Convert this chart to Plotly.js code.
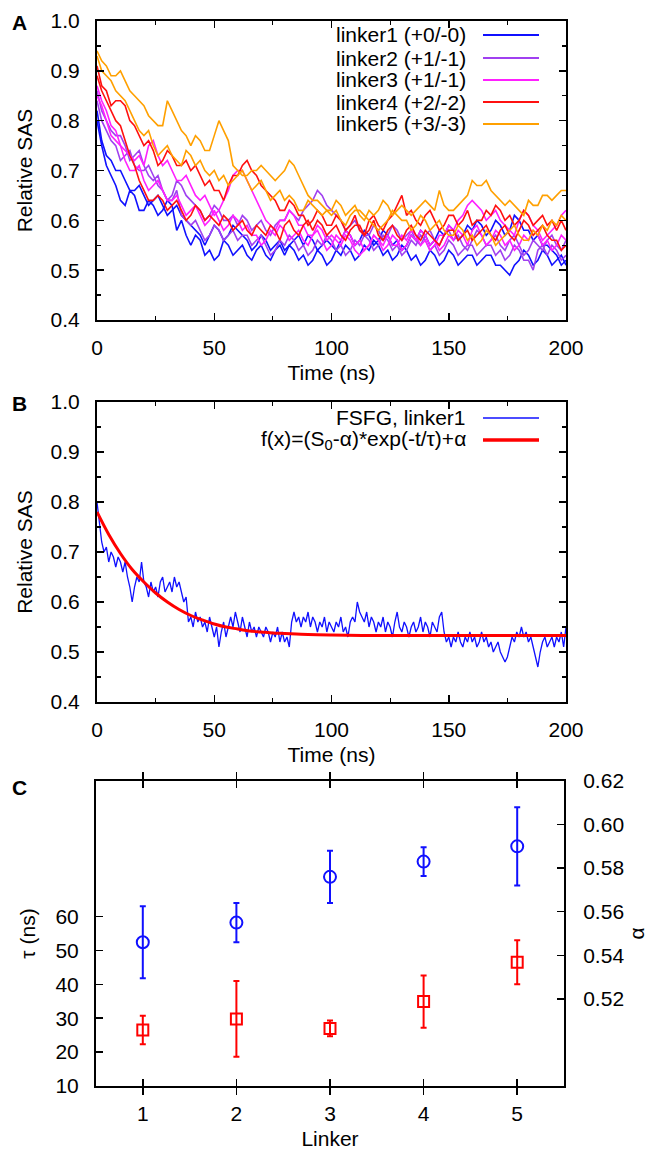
<!DOCTYPE html>
<html>
<head>
<meta charset="utf-8">
<script src="https://cdn.plot.ly/plotly-3.0.1.min.js"></script>
<style>html,body{margin:0;padding:0;background:#fff;}#chart{width:648px;height:1153px;}</style>
</head>
<body>
<div id="chart"></div>
<script>
// ---------- Panel A data (Relative SAS vs time, sampled every 2 ns, t = 0..200) ----------
const tStartA = 0, tStepA = 2;
const linker1a = [
0.80,0.75,0.71,0.69,0.67,0.64,0.63,0.66,0.65,0.62,
0.62,0.64,0.63,0.61,0.62,0.64,0.63,0.58,0.60,0.57,
0.55,0.57,0.56,0.53,0.54,0.52,0.53,0.56,0.55,0.53,
0.54,0.55,0.53,0.52,0.54,0.55,0.53,0.52,0.54,0.55,
0.53,0.55,0.54,0.52,0.53,0.51,0.52,0.54,0.53,0.51,
0.52,0.54,0.53,0.55,0.54,0.52,0.53,0.55,0.54,0.56,
0.55,0.53,0.54,0.52,0.53,0.55,0.54,0.52,0.53,0.51,
0.52,0.54,0.53,0.51,0.52,0.54,0.53,0.51,0.52,0.53,
0.53,0.51,0.52,0.53,0.53,0.51,0.51,0.50,0.49,0.51,
0.52,0.54,0.53,0.51,0.52,0.54,0.53,0.51,0.52,0.53,
0.51];
const linker1b = [
0.82,0.76,0.73,0.72,0.70,0.70,0.68,0.66,0.66,0.67,
0.65,0.63,0.64,0.65,0.63,0.61,0.62,0.63,0.61,0.60,
0.59,0.58,0.57,0.55,0.57,0.59,0.58,0.56,0.57,0.59,
0.58,0.57,0.56,0.54,0.55,0.57,0.56,0.54,0.55,0.56,
0.54,0.55,0.56,0.57,0.55,0.57,0.56,0.54,0.55,0.56,
0.55,0.54,0.56,0.58,0.57,0.55,0.56,0.58,0.57,0.55,
0.56,0.58,0.57,0.55,0.56,0.54,0.55,0.57,0.56,0.58,
0.57,0.55,0.56,0.58,0.57,0.59,0.58,0.56,0.57,0.59,
0.58,0.60,0.59,0.57,0.58,0.60,0.59,0.57,0.58,0.61,
0.60,0.58,0.58,0.56,0.57,0.55,0.55,0.54,0.53,0.51,
0.52];
const linker2a = [
0.86,0.82,0.80,0.78,0.77,0.77,0.75,0.72,0.73,0.74,
0.71,0.69,0.68,0.69,0.66,0.64,0.64,0.66,0.61,0.60,
0.59,0.60,0.58,0.56,0.57,0.59,0.58,0.56,0.57,0.58,
0.56,0.57,0.57,0.55,0.56,0.57,0.55,0.53,0.54,0.56,
0.55,0.57,0.56,0.54,0.55,0.53,0.54,0.56,0.55,0.57,
0.56,0.54,0.55,0.53,0.54,0.56,0.55,0.57,0.56,0.54,
0.55,0.57,0.56,0.54,0.55,0.53,0.54,0.56,0.55,0.57,
0.56,0.54,0.55,0.53,0.54,0.56,0.55,0.53,0.54,0.55,
0.55,0.53,0.54,0.55,0.55,0.53,0.54,0.52,0.53,0.55,
0.54,0.52,0.52,0.50,0.54,0.55,0.53,0.55,0.54,0.52,
0.53];
const linker2b = [
0.84,0.80,0.78,0.76,0.75,0.72,0.73,0.74,0.71,0.70,
0.70,0.71,0.69,0.67,0.66,0.64,0.65,0.68,0.67,0.65,
0.64,0.63,0.62,0.60,0.61,0.63,0.62,0.60,0.60,0.61,
0.59,0.61,0.60,0.58,0.59,0.60,0.58,0.57,0.59,0.60,
0.60,0.62,0.61,0.60,0.62,0.63,0.64,0.66,0.65,0.63,
0.62,0.61,0.60,0.58,0.59,0.60,0.58,0.57,0.57,0.59,
0.58,0.56,0.57,0.59,0.58,0.56,0.57,0.58,0.56,0.55,
0.57,0.58,0.56,0.55,0.57,0.58,0.56,0.57,0.55,0.54,
0.56,0.58,0.57,0.55,0.56,0.57,0.55,0.54,0.56,0.57,
0.55,0.53,0.54,0.56,0.55,0.54,0.56,0.57,0.55,0.54,
0.56];
const linker3a = [
0.87,0.84,0.82,0.79,0.78,0.75,0.74,0.73,0.72,0.73,
0.71,0.75,0.76,0.73,0.71,0.72,0.70,0.68,0.68,0.69,
0.67,0.65,0.64,0.65,0.63,0.61,0.62,0.64,0.66,0.69,
0.70,0.70,0.68,0.66,0.64,0.62,0.60,0.59,0.58,0.60,
0.60,0.62,0.61,0.59,0.59,0.57,0.57,0.59,0.58,0.56,
0.57,0.56,0.55,0.57,0.56,0.54,0.53,0.54,0.55,0.57,
0.56,0.55,0.57,0.55,0.55,0.57,0.56,0.58,0.57,0.55,
0.56,0.54,0.55,0.57,0.57,0.59,0.58,0.60,0.61,0.63,
0.64,0.63,0.62,0.60,0.61,0.62,0.60,0.59,0.58,0.57,
0.60,0.62,0.61,0.59,0.58,0.56,0.57,0.58,0.59,0.61,
0.62];
const linker3b = [
0.85,0.83,0.80,0.77,0.76,0.75,0.72,0.70,0.70,0.71,
0.68,0.66,0.67,0.68,0.66,0.64,0.64,0.65,0.63,0.61,
0.62,0.63,0.61,0.59,0.60,0.62,0.60,0.58,0.59,0.61,
0.60,0.58,0.59,0.57,0.57,0.55,0.56,0.58,0.57,0.59,
0.58,0.56,0.57,0.58,0.56,0.55,0.57,0.58,0.56,0.54,
0.55,0.57,0.56,0.58,0.57,0.55,0.56,0.54,0.55,0.57,
0.56,0.54,0.55,0.57,0.56,0.54,0.55,0.57,0.56,0.58,
0.57,0.55,0.56,0.54,0.55,0.57,0.56,0.58,0.57,0.55,
0.58,0.59,0.57,0.55,0.56,0.58,0.57,0.55,0.56,0.54,
0.55,0.57,0.56,0.58,0.57,0.55,0.56,0.54,0.55,0.57,
0.56];
const linker4a = [
0.91,0.87,0.86,0.83,0.84,0.84,0.83,0.80,0.79,0.77,
0.75,0.76,0.74,0.71,0.72,0.74,0.73,0.71,0.71,0.72,
0.70,0.71,0.69,0.67,0.68,0.66,0.66,0.64,0.67,0.69,
0.69,0.71,0.72,0.70,0.69,0.67,0.66,0.65,0.64,0.62,
0.62,0.64,0.63,0.61,0.61,0.59,0.60,0.62,0.61,0.59,
0.59,0.61,0.60,0.58,0.59,0.61,0.58,0.57,0.60,0.61,
0.59,0.58,0.60,0.61,0.63,0.65,0.61,0.62,0.60,0.59,
0.61,0.62,0.60,0.58,0.59,0.61,0.61,0.59,0.60,0.62,
0.59,0.60,0.60,0.62,0.61,0.63,0.62,0.60,0.61,0.59,
0.60,0.62,0.61,0.59,0.60,0.61,0.59,0.60,0.58,0.60,
0.58];
const linker4b = [
0.89,0.86,0.84,0.82,0.80,0.79,0.76,0.73,0.71,0.68,
0.66,0.64,0.64,0.65,0.64,0.62,0.63,0.64,0.62,0.60,
0.61,0.63,0.62,0.60,0.61,0.60,0.59,0.61,0.60,0.58,
0.59,0.60,0.58,0.57,0.59,0.58,0.57,0.59,0.58,0.56,
0.59,0.60,0.58,0.57,0.59,0.60,0.58,0.60,0.59,0.57,
0.58,0.59,0.57,0.56,0.58,0.59,0.59,0.57,0.58,0.60,
0.57,0.56,0.58,0.59,0.57,0.56,0.58,0.59,0.57,0.56,
0.58,0.57,0.56,0.55,0.57,0.58,0.58,0.56,0.57,0.58,
0.56,0.57,0.58,0.59,0.57,0.56,0.58,0.59,0.57,0.56,
0.58,0.60,0.59,0.57,0.58,0.59,0.57,0.56,0.56,0.54,
0.55];
const linker5a = [
0.94,0.92,0.91,0.89,0.89,0.90,0.88,0.86,0.85,0.84,
0.83,0.81,0.80,0.79,0.79,0.84,0.82,0.80,0.78,0.77,
0.75,0.77,0.76,0.74,0.74,0.77,0.80,0.78,0.76,0.71,
0.70,0.69,0.69,0.70,0.70,0.71,0.70,0.69,0.68,0.69,
0.70,0.72,0.71,0.69,0.67,0.65,0.64,0.64,0.63,0.62,
0.62,0.64,0.63,0.61,0.62,0.63,0.61,0.60,0.62,0.61,
0.62,0.64,0.63,0.61,0.62,0.63,0.62,0.61,0.62,0.63,
0.64,0.63,0.62,0.66,0.63,0.62,0.62,0.63,0.64,0.65,
0.68,0.67,0.67,0.68,0.66,0.65,0.64,0.63,0.64,0.63,
0.62,0.61,0.64,0.63,0.63,0.65,0.65,0.64,0.65,0.66,
0.66];
const linker5b = [
0.93,0.90,0.89,0.88,0.86,0.85,0.84,0.82,0.80,0.78,
0.77,0.78,0.75,0.73,0.74,0.75,0.73,0.72,0.71,0.74,
0.73,0.71,0.72,0.70,0.69,0.70,0.68,0.69,0.67,0.68,
0.69,0.70,0.68,0.66,0.67,0.68,0.66,0.64,0.65,0.66,
0.64,0.65,0.64,0.62,0.62,0.64,0.63,0.62,0.61,0.62,
0.61,0.62,0.60,0.59,0.61,0.62,0.62,0.61,0.60,0.59,
0.58,0.59,0.60,0.62,0.61,0.60,0.60,0.58,0.59,0.61,
0.60,0.58,0.59,0.60,0.58,0.57,0.57,0.59,0.58,0.56,
0.57,0.55,0.56,0.58,0.57,0.55,0.56,0.57,0.58,0.59,
0.57,0.56,0.56,0.58,0.57,0.59,0.58,0.60,0.59,0.61,
0.60];
const legendLabelsA = ['linker1 (+0/-0)','linker2 (+1/-1)','linker3 (+1/-1)','linker4 (+2/-2)','linker5 (+3/-3)'];
const linkerColors = ['#1010ff','#a040f0','#ff20ff','#ff1010','#ffa000'];

// ---------- Panel B data (FSFG, linker1, every 1 ns) ----------
const tStartB = 0, tStepB = 1;
const fsfgLinker1 = [
0.80,0.76,0.72,0.70,0.71,0.68,0.70,0.69,0.67,0.69,0.68,
0.66,0.68,0.65,0.63,0.60,0.63,0.65,0.64,0.68,0.64,
0.63,0.61,0.64,0.62,0.63,0.61,0.64,0.65,0.62,0.63,
0.64,0.62,0.65,0.63,0.64,0.62,0.60,0.61,0.56,0.57,
0.55,0.58,0.56,0.57,0.55,0.56,0.54,0.57,0.55,0.53,
0.55,0.51,0.54,0.56,0.53,0.55,0.57,0.55,0.58,0.56,
0.54,0.57,0.55,0.53,0.56,0.54,0.55,0.53,0.55,0.54,
0.53,0.55,0.54,0.52,0.54,0.53,0.55,0.52,0.54,0.52,
0.53,0.51,0.56,0.58,0.56,0.57,0.55,0.57,0.56,0.58,
0.55,0.57,0.56,0.54,0.56,0.55,0.57,0.54,0.56,0.55,
0.54,0.56,0.55,0.57,0.54,0.55,0.53,0.56,0.57,0.56,
0.60,0.58,0.57,0.56,0.58,0.55,0.57,0.56,0.54,0.56,
0.55,0.57,0.54,0.56,0.55,0.53,0.56,0.58,0.55,0.54,
0.56,0.55,0.53,0.55,0.56,0.54,0.55,0.57,0.54,0.56,
0.55,0.53,0.56,0.55,0.54,0.57,0.58,0.54,0.52,0.53,
0.51,0.53,0.52,0.54,0.52,0.51,0.53,0.52,0.54,0.52,
0.53,0.51,0.52,0.54,0.52,0.53,0.51,0.52,0.50,0.51,
0.52,0.50,0.49,0.48,0.49,0.51,0.53,0.52,0.54,0.53,
0.55,0.53,0.54,0.52,0.53,0.51,0.49,0.47,0.50,0.52,
0.53,0.51,0.52,0.53,0.51,0.53,0.52,0.54,0.51,0.55];
const fitTimes = [0,5,10,15,20,25,30,35,40,45,50,55,60,65,70,75,80,90,100,120,140,160,180,200];
const fitValues = [0.780,0.735,0.697,0.665,0.640,0.618,0.600,0.585,0.573,0.564,0.556,0.550,0.546,0.542,0.540,0.538,0.537,0.535,0.534,0.533,0.533,0.533,0.533,0.533];
const legendLabelsB = ['FSFG, linker1','f(x)=(S<sub>0</sub>-α)*exp(-t/τ)+α'];

// ---------- Panel C data ----------
const linkers = [1,2,3,4,5];
const tau = [26.5,29.8,27.0,34.9,46.5];
const tauErr = [4.2,11.2,2.3,7.7,6.5];
const alpha = [0.546,0.555,0.576,0.583,0.590];
const alphaErr = [0.0165,0.009,0.012,0.0066,0.018];

// ---------- Traces ----------
const seriesA = [linker1a,linker1b,linker2a,linker2b,linker3a,linker3b,linker4a,linker4b,linker5a,linker5b];
const traces = [];
seriesA.forEach((ys,i)=>{
  traces.push({type:'scatter',mode:'lines',y:ys,x0:tStartA,dx:tStepA,xaxis:'x',yaxis:'y',
    line:{color:linkerColors[Math.floor(i/2)],width:1.6},showlegend:false,hoverinfo:'skip'});
});
traces.push({type:'scatter',mode:'lines',y:fsfgLinker1,x0:tStartB,dx:tStepB,xaxis:'x2',yaxis:'y2',
  line:{color:'#1010ff',width:1.3},showlegend:false});
traces.push({type:'scatter',mode:'lines',x:fitTimes,y:fitValues,xaxis:'x2',yaxis:'y2',
  line:{color:'#ff0000',width:3,shape:'spline'},showlegend:false});
traces.push({type:'scatter',mode:'markers',x:linkers,y:alpha,xaxis:'x3',yaxis:'y4',
  marker:{symbol:'circle-open',size:12,color:'#1010ff',line:{width:2,color:'#1010ff'}},
  error_y:{type:'data',array:alphaErr,visible:true,color:'#1010ff',thickness:2,width:3},showlegend:false});
traces.push({type:'scatter',mode:'markers',x:linkers,y:tau,xaxis:'x3',yaxis:'y3',
  marker:{symbol:'square-open',size:11,color:'#ff0000',line:{width:2,color:'#ff0000'}},
  error_y:{type:'data',array:tauErr,visible:true,color:'#ff0000',thickness:2,width:3},showlegend:false});

// ---------- Layout ----------
const FONT = 'Liberation Sans, Arial, sans-serif';
const FS = 21;
const W = 648, H = 1153;
const px = v => v/W, py = v => 1 - v/H;

function timeAxis(anchor){
  return {domain:[px(97),px(566)],anchor:anchor,range:[0,200],dtick:50,tick0:0,
    ticks:'inside',ticklen:7,tickwidth:1.5,tickcolor:'#000',
    minor:{dtick:25,ticks:'inside',ticklen:4,tickwidth:1.2,tickcolor:'#000',showgrid:false},
    showline:true,linewidth:2,linecolor:'#000',mirror:'allticks',showgrid:false,zeroline:false,
    tickfont:{family:FONT,size:FS,color:'#000'},ticklabelstandoff:8,
    title:{text:'Time (ns)',font:{family:FONT,size:FS,color:'#000'},standoff:7}};
}
function sasAxis(top,bottom,anchor){
  return {domain:[py(bottom),py(top)],anchor:anchor,range:[0.4,1.0],dtick:0.1,tick0:0.4,tickformat:'.1f',
    ticks:'inside',ticklen:7,tickwidth:1.5,tickcolor:'#000',
    minor:{dtick:0.05,ticks:'inside',ticklen:4,tickwidth:1.2,tickcolor:'#000',showgrid:false},
    showline:true,linewidth:2,linecolor:'#000',mirror:'allticks',showgrid:false,zeroline:false,
    tickfont:{family:FONT,size:FS,color:'#000'},ticklabelstandoff:11,
    title:{text:'Relative SAS',font:{family:FONT,size:FS,color:'#000'},standoff:12}};
}

const legendRowsA = [35,58,80,102,124];
const annotations = [];
const shapes = [];
legendLabelsA.forEach((lab,i)=>{
  annotations.push({xref:'paper',yref:'paper',x:px(468),y:py(legendRowsA[i]),xanchor:'right',yanchor:'middle',
    text:lab,showarrow:false,font:{family:FONT,size:FS,color:'#000'}});
  shapes.push({type:'line',xref:'paper',yref:'paper',x0:px(483),x1:px(539),y0:py(legendRowsA[i]),y1:py(legendRowsA[i]),
    line:{color:linkerColors[i],width:1.8}});
});
const legendRowsB = [418,440];
const legendColorsB = ['#1010ff','#ff0000'];
const legendWidthsB = [1.5,3.5];
legendLabelsB.forEach((lab,i)=>{
  annotations.push({xref:'paper',yref:'paper',x:px(468),y:py(legendRowsB[i]),xanchor:'right',yanchor:'middle',
    text:lab,showarrow:false,font:{family:FONT,size:FS,color:'#000'}});
  shapes.push({type:'line',xref:'paper',yref:'paper',x0:px(483),x1:px(539),y0:py(legendRowsB[i]),y1:py(legendRowsB[i]),
    line:{color:legendColorsB[i],width:legendWidthsB[i]}});
});
[['A',22],['B',403],['C',787]].forEach(([t,y])=>{
  annotations.push({xref:'paper',yref:'paper',x:px(19),y:py(y),xanchor:'center',yanchor:'middle',
    text:'<b>'+t+'</b>',showarrow:false,font:{family:FONT,size:FS,color:'#000'}});
});

const layout = {
  width:W,height:H,margin:{l:0,r:0,t:0,b:0},paper_bgcolor:'#fff',plot_bgcolor:'#fff',
  font:{family:FONT,size:FS,color:'#000'},showlegend:false,
  xaxis:timeAxis('y'),
  yaxis:sasAxis(21,320,'x'),
  xaxis2:timeAxis('y2'),
  yaxis2:sasAxis(402,702,'x2'),
  xaxis3:{domain:[px(96),px(564)],anchor:'y3',range:[0.5,5.5],tickvals:linkers,
    ticks:'inside',ticklen:7,tickwidth:1.5,tickcolor:'#000',
    showline:true,linewidth:2,linecolor:'#000',mirror:'allticks',showgrid:false,zeroline:false,
    tickfont:{family:FONT,size:FS,color:'#000'},ticklabelstandoff:8,
    title:{text:'Linker',font:{family:FONT,size:FS,color:'#000'},standoff:7}},
  yaxis3:{domain:[py(1086),py(781)],anchor:'x3',range:[10,100],tickvals:[10,20,30,40,50,60],
    ticks:'inside',ticklen:7,tickwidth:1.5,tickcolor:'#000',
    showline:true,linewidth:2,linecolor:'#000',mirror:true,showgrid:false,zeroline:false,
    tickfont:{family:FONT,size:FS,color:'#000'},ticklabelstandoff:11,
    title:{text:'τ (ns)',font:{family:FONT,size:FS,color:'#000'},standoff:14}},
  yaxis4:{overlaying:'y3',side:'right',anchor:'x3',range:[0.48,0.62],tickvals:[0.52,0.54,0.56,0.58,0.60,0.62],tickformat:'.2f',
    ticks:'inside',ticklen:7,tickwidth:1.5,tickcolor:'#000',
    showline:true,linewidth:2,linecolor:'#000',showgrid:false,zeroline:false,
    tickfont:{family:FONT,size:FS,color:'#000'},ticklabelstandoff:13,
    title:{text:'α',font:{family:FONT,size:FS,color:'#000'},standoff:8}},
  annotations:annotations,shapes:shapes
};

Plotly.newPlot('chart',traces,layout,{displayModeBar:false,staticPlot:true});
</script>
</body>
</html>
